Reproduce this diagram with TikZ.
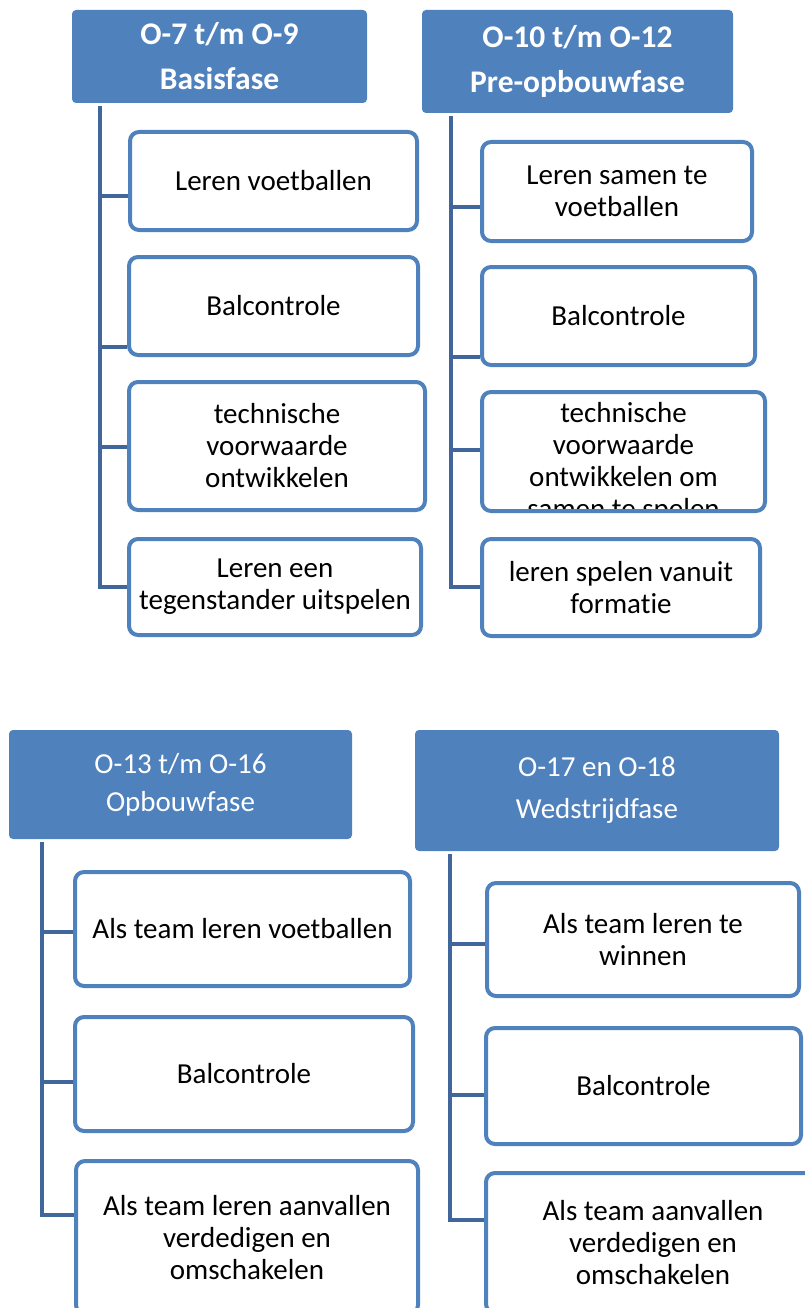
\documentclass[tikz,border=0pt]{standalone}
\usepackage{fontspec}
\setmainfont{Carlito}[Ligatures=NoCommon]
\usepackage{xcolor}
\usepackage{tikz}
\usetikzlibrary{positioning}

\definecolor{phaseblue}{HTML}{4F81BD}
\definecolor{trunkblue}{HTML}{41669B}

\tikzset{
  phase/.style={rectangle, fill=phaseblue, rounded corners=4pt,
    text=white, align=center, inner sep=0pt},
  goal/.style={rectangle, draw=phaseblue, line width=4pt,
    rounded corners=9pt, fill=white, align=center, inner sep=0pt,
    font=\fontsize{29}{32}\selectfont},
  trunk/.style={draw=trunkblue, line width=4.5pt},
}

\begin{document}
\begin{tikzpicture}[x=1pt,y=-1pt]

\useasboundingbox (0,0) rectangle (805,1308);
\clip (0,0) rectangle (805,1308);

% Headers
\node[
  phase,
  minimum width=295pt,
  minimum height=93pt,
  font=\bfseries\fontsize{31.5}{45}\selectfont
] (basis) at (219.5,56.5)
{O-7 t/m O-9\\Basisfase};

\node[
  phase,
  minimum width=311pt,
  minimum height=103pt,
  font=\bfseries\fontsize{31.5}{45}\selectfont
] (pre) at (577.5,61.5)
{O-10 t/m O-12\\Pre-opbouwfase};

\node[
  phase,
  minimum width=343pt,
  minimum height=109pt,
  font=\fontsize{29}{38}\selectfont
] (opbouw) at (180.5,784.5)
{O-13 t/m O-16\\Opbouwfase};

\node[
  phase,
  minimum width=364pt,
  minimum height=121pt,
  font=\fontsize{29}{42}\selectfont
] (wedstrijd) at (597,790.5)
{O-17 en O-18\\Wedstrijdfase};

% Trunks below the headers
\coordinate (basisroot) at ([yshift=-3pt]basis.south -| 100,0);
\coordinate (preroot) at ([yshift=-3pt]pre.south -| 451,0);
\coordinate (opbouwroot) at ([yshift=-3pt]opbouw.south -| 42,0);
\coordinate (wedstrijdroot) at ([yshift=-3pt]wedstrijd.south -| 450,0);

% Goal boxes, basisfase
\node[goal, minimum width=287pt, minimum height=98pt] (basis1) at (273.5,181)
{Leren voetballen};
\node[goal, minimum width=289pt, minimum height=98pt] (basis2) at (273.5,306)
{Balcontrole};
\node[goal, minimum width=296pt, minimum height=128pt] (basis3) at (277,446)
{technische\\voorwaarde\\ontwikkelen};
\node[goal, minimum width=292pt, minimum height=96pt] (basis4) at (275,587)
{Leren een\\tegenstander uitspelen};

% Goal boxes, pre-opbouwfase
\node[goal, minimum width=270pt, minimum height=99pt] (pre1) at (617,191.5)
{Leren samen te\\voetballen};
\node[goal, minimum width=273pt, minimum height=98pt] (pre2) at (618.5,316)
{Balcontrole};
\node[
  goal,
  minimum width=283pt,
  minimum height=119pt,
  path picture={
    \node[draw=none, fill=none, align=center, inner sep=0pt,
      font=\fontsize{29}{32}\selectfont]
      (pre3text) at ([yshift=-11pt]path picture bounding box.center)
      {technische\\voorwaarde\\ontwikkelen om\\samen te spelen};
  }
] (pre3) at (623.5,451.5) {};
\node[goal, minimum width=278pt, minimum height=97pt] (pre4) at (621,587.5)
{leren spelen vanuit\\formatie};

% Goal boxes, opbouwfase
\node[goal, minimum width=335pt, minimum height=114pt] (opbouw1) at (242.5,929)
{Als team leren voetballen};
\node[goal, minimum width=338pt, minimum height=114pt] (opbouw2) at (244,1074)
{Balcontrole};
\node[goal, minimum width=342pt, minimum height=153pt] (opbouw3) at (247,1237.5)
{Als team leren aanvallen\\verdedigen en\\omschakelen};

% Goal boxes, wedstrijdfase
\node[goal, minimum width=312pt, minimum height=113pt] (wedstrijd1) at (643,939.5)
{Als team leren te\\winnen};
\node[goal, minimum width=315pt, minimum height=116pt] (wedstrijd2) at (643.5,1086)
{Balcontrole};
\node[goal, minimum width=334pt, minimum height=140pt] (wedstrijd3) at (653,1243)
{Als team aanvallen\\verdedigen en\\omschakelen};

% Trunks and the last branch
\draw[trunk] (basisroot) |- (basis4.west |- 0,587);
\draw[trunk] (preroot) |- (pre4.west |- 0,587);
\draw[trunk] (opbouwroot) |- (opbouw3.west |- 0,1215);
\draw[trunk] (wedstrijdroot) |- (wedstrijd3.west |- 0,1220);

% Other branches to the boxes
\foreach \r/\b/\y in {basisroot/basis1/196, basisroot/basis2/347,
                      basisroot/basis3/447,
                      preroot/pre1/207, preroot/pre2/357, preroot/pre3/450,
                      opbouwroot/opbouw1/932, opbouwroot/opbouw2/1082,
                      wedstrijdroot/wedstrijd1/944,
                      wedstrijdroot/wedstrijd2/1095}
  \draw[trunk] (\r |- 0,\y) -- (\b.west |- 0,\y);

\end{tikzpicture}
\end{document}
